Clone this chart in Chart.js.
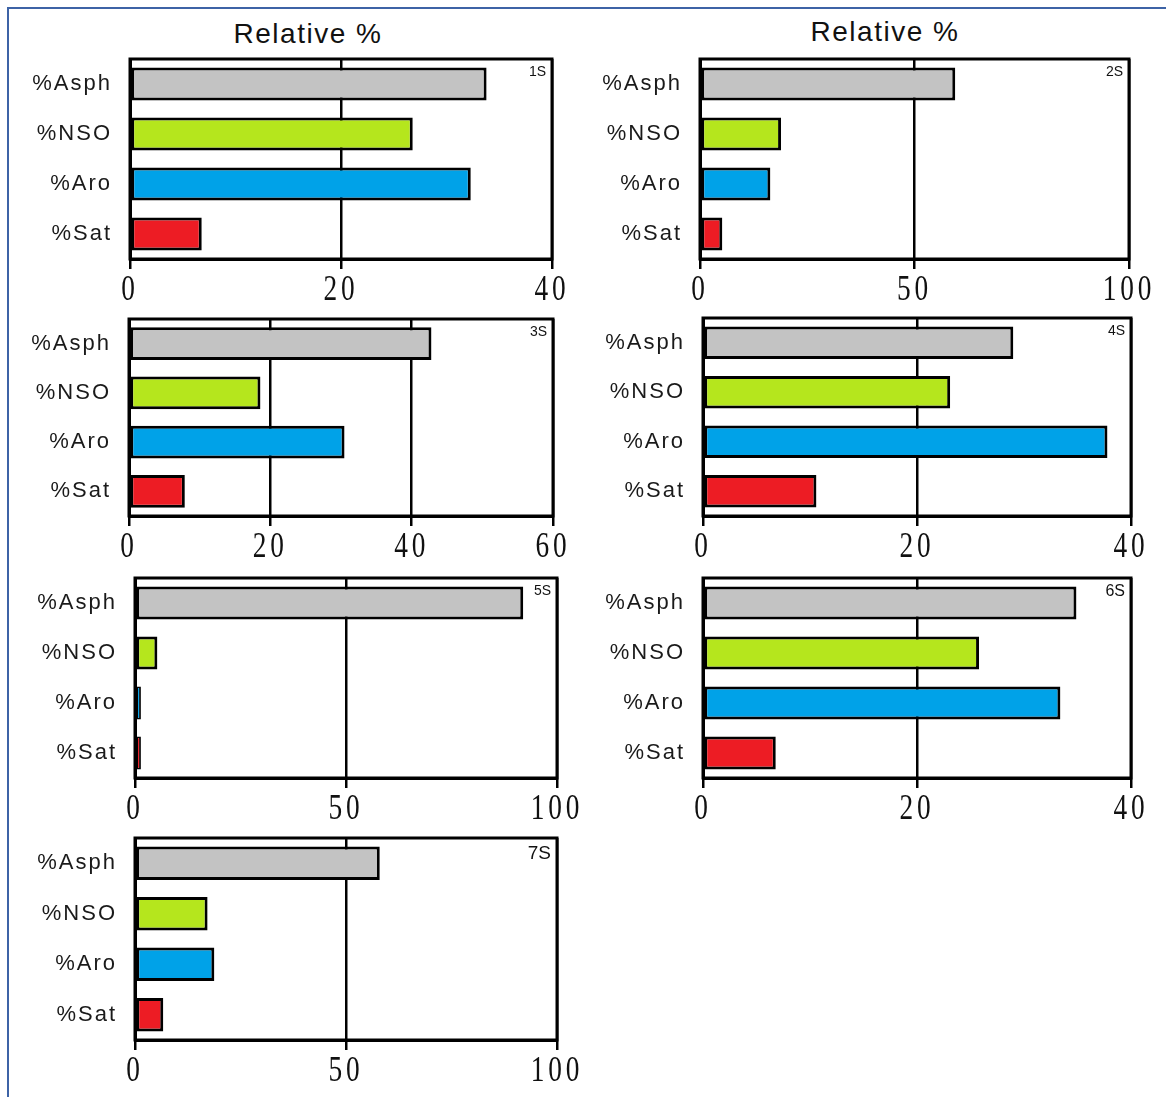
<!DOCTYPE html>
<html>
<head>
<meta charset="utf-8">
<title>Relative %</title>
<script src="https://cdn.jsdelivr.net/npm/chart.js@4.4.1/dist/chart.umd.min.js"></script>
<style>
  html, body { margin: 0; padding: 0; background: #fff; }
  body { width: 1166px; height: 1097px; position: relative; overflow: hidden; }
  #frame { position: absolute; left: 7px; top: 7px; right: -10px; bottom: -10px;
           border-left: 2px solid #3d63a6; border-top: 2px solid #3d63a6; }
  .title { position: absolute; font-family: Arial, 'Liberation Sans', sans-serif; font-size: 28px;
           letter-spacing: 1.5px; color: #111; white-space: nowrap; transform: translateX(-50%); }
  canvas { position: absolute; }
</style>
</head>
<body>
<div id="frame"></div>
<div class="title" style="left:308px; top:18px;">Relative %</div>
<div class="title" style="left:885px; top:16px;">Relative %</div>
<script>
// Fractions of each sample (relative %)
const categories  = ['%Asph', '%NSO', '%Aro', '%Sat'];
const sampleNames = ['1S', '2S', '3S', '4S', '5S', '6S', '7S'];
const asph = [33.8, 59.5, 42.8, 29.0, 92.0, 34.9, 58.0];
const nso  = [26.8, 18.9, 18.6, 23.1,  5.3, 25.8, 17.2];
const aro  = [32.3, 16.4, 30.5, 37.8,  1.4, 33.4, 18.8];
const sat  = [ 6.8,  5.2,  7.9, 10.6,  1.4,  6.8,  6.7];
// x axis range and tick step of each panel
const axisMax  = [40, 100, 60, 40, 100, 40, 100];
const axisStep = [20,  50, 20, 20,  50, 20,  50];

// Panel frames on the page: [left, top, right, bottom] of the plot box
const panelBoxes = [
  [130,  59, 552,  259],
  [700,  59, 1129, 259],
  [129, 319, 553,  516],
  [703, 318, 1131, 516],
  [135, 578, 557,  778],
  [703, 578, 1131, 778],
  [135, 838, 557, 1040]
];
const nameSizes = [14, 14, 14, 14, 14, 16, 19];
const fills = ['#c3c3c3', '#b5e61d', '#00a2e8', '#ed1c24'];

const LABEL_W = 125, PAD_TOP = 4, PAD_RIGHT = 34, AXIS_H = 52;

// Closed frame around the plot area, condensed serif tick numbers,
// and the sample name in the top-right corner
const panelBox = {
  id: 'panelBox',
  beforeDraw(chart) { chart.ctx.letterSpacing = '2px'; },
  afterDatasetsDraw(chart) {
    const { ctx, chartArea: a } = chart;
    ctx.save();
    ctx.lineWidth = 3;
    ctx.strokeStyle = '#000';
    ctx.strokeRect(a.left, a.top, a.right - a.left, a.bottom - a.top);
    ctx.restore();
  },
  afterDraw(chart, args, opts) {
    const { ctx, chartArea: a } = chart;
    const xs = chart.scales.x;

    ctx.save();
    ctx.font = "36px 'Liberation Serif', 'Times New Roman', serif";
    ctx.fillStyle = '#111';
    ctx.textAlign = 'center';
    ctx.textBaseline = 'alphabetic';
    ctx.letterSpacing = '5px';
    xs.ticks.forEach((t, k) => {
      const px = xs.getPixelForTick(k);
      ctx.save();
      ctx.translate(px, a.bottom + 41);
      ctx.scale(0.76, 1);
      ctx.fillText(t.label, 0, 0);
      ctx.restore();
    });
    ctx.restore();

    ctx.save();
    ctx.letterSpacing = '0px';
    ctx.font = opts.size + "px Arial, 'Liberation Sans', sans-serif";
    ctx.textAlign = 'right';
    ctx.textBaseline = 'top';
    ctx.fillStyle = '#111';
    ctx.fillText(opts.name, a.right - 6, a.top + 6);
    ctx.restore();
  }
};

panelBoxes.forEach((box, i) => {
  const [L, T, R, B] = box;
  const w = (R - L) + LABEL_W + PAD_RIGHT;
  const h = (B - T) + PAD_TOP + AXIS_H;
  const cv = document.createElement('canvas');
  cv.width = w; cv.height = h;
  cv.style.left = (L - LABEL_W) + 'px';
  cv.style.top = (T - PAD_TOP) + 'px';
  cv.style.width = w + 'px';
  cv.style.height = h + 'px';
  document.body.appendChild(cv);

  new Chart(cv, {
    type: 'bar',
    data: {
      labels: categories,
      datasets: [{
        data: [asph[i], nso[i], aro[i], sat[i]],
        backgroundColor: fills,
        borderColor: '#000',
        // thin outline on very short bars so their fill still shows
        borderWidth: c => (c.raw < 3 ? 1.8 : 3),
        borderSkipped: false,
        barPercentage: 0.66,
        categoryPercentage: 1
      }]
    },
    options: {
      indexAxis: 'y',
      responsive: false,
      animation: false,
      devicePixelRatio: 1,
      layout: { padding: { left: 0, top: PAD_TOP, right: PAD_RIGHT, bottom: 0 } },
      plugins: {
        legend: { display: false },
        tooltip: { enabled: false },
        panelBox: { name: sampleNames[i], size: nameSizes[i] }
      },
      scales: {
        x: {
          type: 'linear',
          min: 0,
          max: axisMax[i],
          afterFit: s => {
            s.height = AXIS_H;
            s.paddingLeft = 0; s.paddingRight = 0;
          },
          ticks: { stepSize: axisStep[i], display: false },
          grid: { color: '#000', lineWidth: 2.5, tickLength: 10, drawTicks: true },
          border: { display: true, color: '#000', width: 3 }
        },
        y: {
          afterFit: s => {
            s.width = LABEL_W;
            s.paddingTop = 0; s.paddingBottom = 0;
          },
          ticks: {
            padding: 18,
            color: '#1a1a1a',
            font: { family: "Arial, 'Liberation Sans', sans-serif", size: 22 }
          },
          grid: { display: false, drawTicks: false },
          border: { display: true, color: '#000', width: 3 }
        }
      }
    },
    plugins: [panelBox]
  });
});
</script>
</body>
</html>
